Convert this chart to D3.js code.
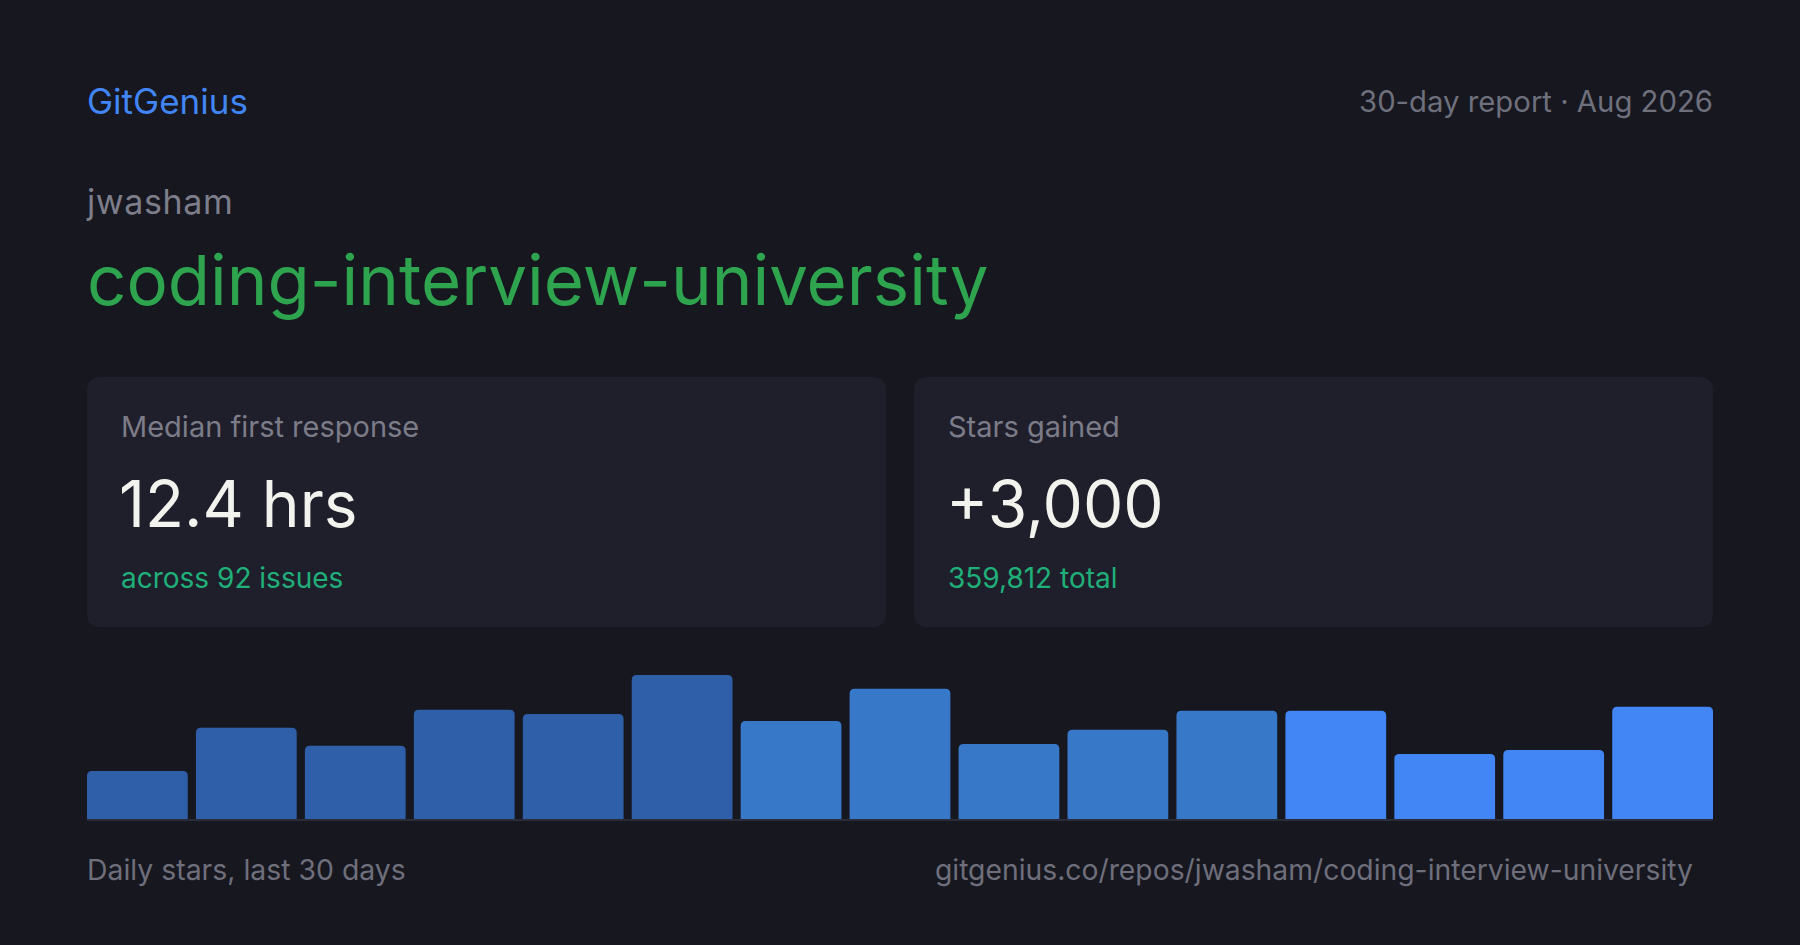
<!DOCTYPE html>
<html>
<head>
<meta charset="utf-8">
<script src="https://cdn.jsdelivr.net/npm/d3@7"></script>
<style>
  html, body { margin: 0; padding: 0; background: #16171f; }
  svg { display: block; font-family: Inter, "Noto Sans", sans-serif; }
</style>
</head>
<body>
<div id="card"></div>
<script>
// bar data: 15 buckets over the last 30 days
const buckets = d3.range(1, 16).map(String);
const stars = [101, 192, 154, 230, 221, 303, 206, 274, 158, 188, 228, 228, 137, 145, 236];
const barGroup = [0, 0, 0, 0, 0, 0, 1, 1, 1, 1, 1, 2, 2, 2, 2];

const statLabels = ["Median first response", "Stars gained"];
const statValues = ["12.4 hrs", "+3,000"];
const statNotes = ["across 92 issues", "359,812 total"];

const W = 1800, H = 945;
const left = 87, right = 1713;

const svg = d3.select("#card").append("svg")
    .attr("width", W)
    .attr("height", H);

svg.append("rect").attr("width", W).attr("height", H).attr("fill", "#16171f");

// header
svg.append("text")
    .attr("x", left).attr("y", 114)
    .attr("font-size", 35).attr("fill", "#4285f4")
    .text("GitGenius");

svg.append("text")
    .attr("x", right).attr("y", 112)
    .attr("text-anchor", "end")
    .attr("font-size", 29.3).attr("fill", "#6e707c")
    .text("30-day report · Aug 2026");

svg.append("text")
    .attr("x", left).attr("y", 214)
    .attr("font-size", 34).attr("letter-spacing", 0.6).attr("fill", "#7d7e8a")
    .text("jwasham");

svg.append("text")
    .attr("x", left).attr("y", 305)
    .attr("font-size", 69).attr("fill", "#2ea44f")
    .text("coding-interview-university");

// stat cards
const cardX = d3.scaleBand()
    .domain(statLabels)
    .range([left, right])
    .paddingInner(28 / 827);

const cards = svg.selectAll("g.stat")
    .data(statLabels)
    .enter()
    .append("g")
    .attr("class", "stat")
    .attr("transform", d => `translate(${cardX(d)},377)`);

cards.append("rect")
    .attr("width", cardX.bandwidth())
    .attr("height", 250)
    .attr("rx", 12)
    .attr("fill", "#1f1f2b");

cards.append("text")
    .attr("x", 34).attr("y", 60)
    .attr("font-size", 29).attr("fill", "#7b7c88")
    .text(d => d);

cards.append("text")
    .attr("x", 32).attr("y", 150)
    .attr("font-size", 64).attr("fill", "#f2f2ee")
    .text((d, i) => statValues[i]);

cards.append("text")
    .attr("x", 34).attr("y", 211)
    .attr("font-size", 28).attr("fill", "#1fb07a")
    .text((d, i) => statNotes[i]);

// bar chart
const baseY = 819;
const x = d3.scaleBand()
    .domain(buckets)
    .range([left, right])
    .paddingInner(0.075);

const y = d3.scaleLinear()
    .domain([0, d3.max(stars)])
    .range([baseY, baseY - 144]);

const groupColor = ["#2e5fa8", "#3778c9", "#4285f4"];

const r = 5;
svg.append("g")
    .selectAll("path")
    .data(stars)
    .enter()
    .append("path")
    .attr("fill", (d, i) => groupColor[barGroup[i]])
    .attr("d", (d, i) => {
        const x0 = x(buckets[i]), x1 = x0 + x.bandwidth();
        const y0 = y(d);
        return `M${x0},${baseY}V${y0 + r}Q${x0},${y0} ${x0 + r},${y0}H${x1 - r}Q${x1},${y0} ${x1},${y0 + r}V${baseY}Z`;
    });

svg.append("line")
    .attr("x1", left).attr("x2", right)
    .attr("y1", baseY + 1).attr("y2", baseY + 1)
    .attr("stroke", "#2b2c3a").attr("stroke-width", 2);

// footer
svg.append("text")
    .attr("x", left).attr("y", 880)
    .attr("font-size", 28.4).attr("fill", "#6e6f7b")
    .text("Daily stars, last 30 days");

svg.append("text")
    .attr("x", 1693).attr("y", 880)
    .attr("text-anchor", "end")
    .attr("font-size", 28.3).attr("fill", "#6e6f7b")
    .text("gitgenius.co/repos/jwasham/coding-interview-university");
</script>
</body>
</html>
